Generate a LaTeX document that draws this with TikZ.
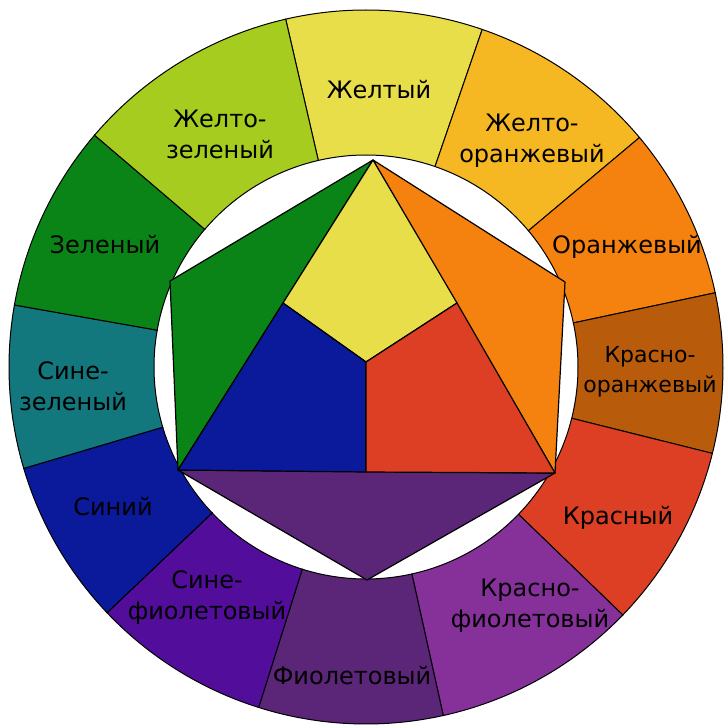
\documentclass[tikz,border=0pt]{standalone}
\usepackage{fontspec}
\setmainfont{DejaVu Sans}
\usepackage{xcolor}

\definecolor{cYellow}{HTML}{E8DE4A}
\definecolor{cYellowOrange}{HTML}{F5B823}
\definecolor{cOrange}{HTML}{F5820F}
\definecolor{cRedOrange}{HTML}{B85C0C}
\definecolor{cRed}{HTML}{DC3F23}
\definecolor{cRedViolet}{HTML}{86309A}
\definecolor{cViolet}{HTML}{5B2578}
\definecolor{cBlueViolet}{HTML}{520E9A}
\definecolor{cBlue}{HTML}{0A1A9A}
\definecolor{cBlueGreen}{HTML}{13777E}
\definecolor{cGreen}{HTML}{0B8417}
\definecolor{cYellowGreen}{HTML}{A5CC1E}

\tikzset{
    sector/.style={draw=black, line width=1pt},
    piece/.style={draw=black, line width=1.2pt, line join=round},
    colname/.style={font=\fontsize{24}{31}\selectfont, align=center, text=black}
}

\begin{document}
\begin{tikzpicture}[x=1pt, y=1pt]
    \fill[white] (-366,-361) rectangle (358,367);
    \useasboundingbox (-366,-361) rectangle (358,367);

    \filldraw[sector, fill=cYellow] (71:212) -- (71:357) arc (71:103:357) -- (103:212) arc (103:71:212) -- cycle;
    \filldraw[sector, fill=cYellowOrange] (40:212) -- (40:357) arc (40:71:357) -- (71:212) arc (71:40:212) -- cycle;
    \filldraw[sector, fill=cOrange] (12:212) -- (12:357) arc (12:40:357) -- (40:212) arc (40:12:212) -- cycle;
    \filldraw[sector, fill=cRedOrange] (-14:212) -- (-14:357) arc (-14:12:357) -- (12:212) arc (12:-14:212) -- cycle;
    \filldraw[sector, fill=cRed] (-44:212) -- (-44:357) arc (-44:-14:357) -- (-14:212) arc (-14:-44:212) -- cycle;
    \filldraw[sector, fill=cRedViolet] (-77.5:212) -- (-77.5:357) arc (-77.5:-44:357) -- (-44:212) arc (-44:-77.5:212) -- cycle;
    \filldraw[sector, fill=cViolet] (-107.5:212) -- (-107.5:357) arc (-107.5:-77.5:357) -- (-77.5:212) arc (-77.5:-107.5:212) -- cycle;
    \filldraw[sector, fill=cBlueViolet] (-136.5:212) -- (-136.5:357) arc (-136.5:-107.5:357) -- (-107.5:212) arc (-107.5:-136.5:212) -- cycle;
    \filldraw[sector, fill=cBlue] (-163.5:212) -- (-163.5:357) arc (-163.5:-136.5:357) -- (-136.5:212) arc (-136.5:-163.5:212) -- cycle;
    \filldraw[sector, fill=cBlueGreen] (170:212) -- (170:357) arc (170:196.5:357) -- (196.5:212) arc (196.5:170:212) -- cycle;
    \filldraw[sector, fill=cGreen] (139.5:212) -- (139.5:357) arc (139.5:170:357) -- (170:212) arc (170:139.5:212) -- cycle;
    \filldraw[sector, fill=cYellowGreen] (103:212) -- (103:357) arc (103:139.5:357) -- (139.5:212) arc (139.5:103:212) -- cycle;

    \coordinate (apex) at (7,207);
    \coordinate (gl) at (-196,86);
    \coordinate (bl) at (-188,-103);
    \coordinate (bot) at (1,-213);
    \coordinate (br) at (189,-106);
    \coordinate (orr) at (199,85);
    \coordinate (yl) at (-83,64);
    \coordinate (yr) at (91,64);
    \coordinate (mid) at (0,5);
    \coordinate (bm) at (0,-105);

    \filldraw[piece, fill=cGreen] (apex) -- (gl) -- (bl) -- cycle;
    \filldraw[piece, fill=cOrange] (apex) -- (orr) -- (br) -- cycle;
    \filldraw[piece, fill=cViolet] (bl) -- (br) -- (bot) -- cycle;
    \filldraw[piece, fill=cYellow] (apex) -- (yr) -- (mid) -- (yl) -- cycle;
    \filldraw[piece, fill=cBlue] (yl) -- (mid) -- (bm) -- (bl) -- cycle;
    \filldraw[piece, fill=cRed] (yr) -- (br) -- (bm) -- (mid) -- cycle;

    \node[colname] (yellow) at (13,277) {Желтый};
    \node[colname] (yelloworange) at (166,226) {Желто-\\оранжевый};
    \node[colname] (orange) at (261,120) {Оранжевый};
    \node[colname, font=\fontsize{22}{30}\selectfont] (redorange) at (284,-5) {Красно-\\оранжевый};
    \node[colname] (red) at (252,-151) {Красный};
    \node[colname] (redviolet) at (164,-239) {Красно-\\фиолетовый};
    \node[colname] (violet) at (-14,-309) {Фиолетовый};
    \node[colname] (blueviolet) at (-159,-231) {Сине-\\фиолетовый};
    \node[colname] (blue) at (-253,-140) {Синий};
    \node[colname] (bluegreen) at (-293,-19) {Сине-\\зеленый};
    \node[colname] (green) at (-261,122) {Зеленый};
    \node[colname] (yellowgreen) at (-146,233) {Желто-\\зеленый};
\end{tikzpicture}
\end{document}
